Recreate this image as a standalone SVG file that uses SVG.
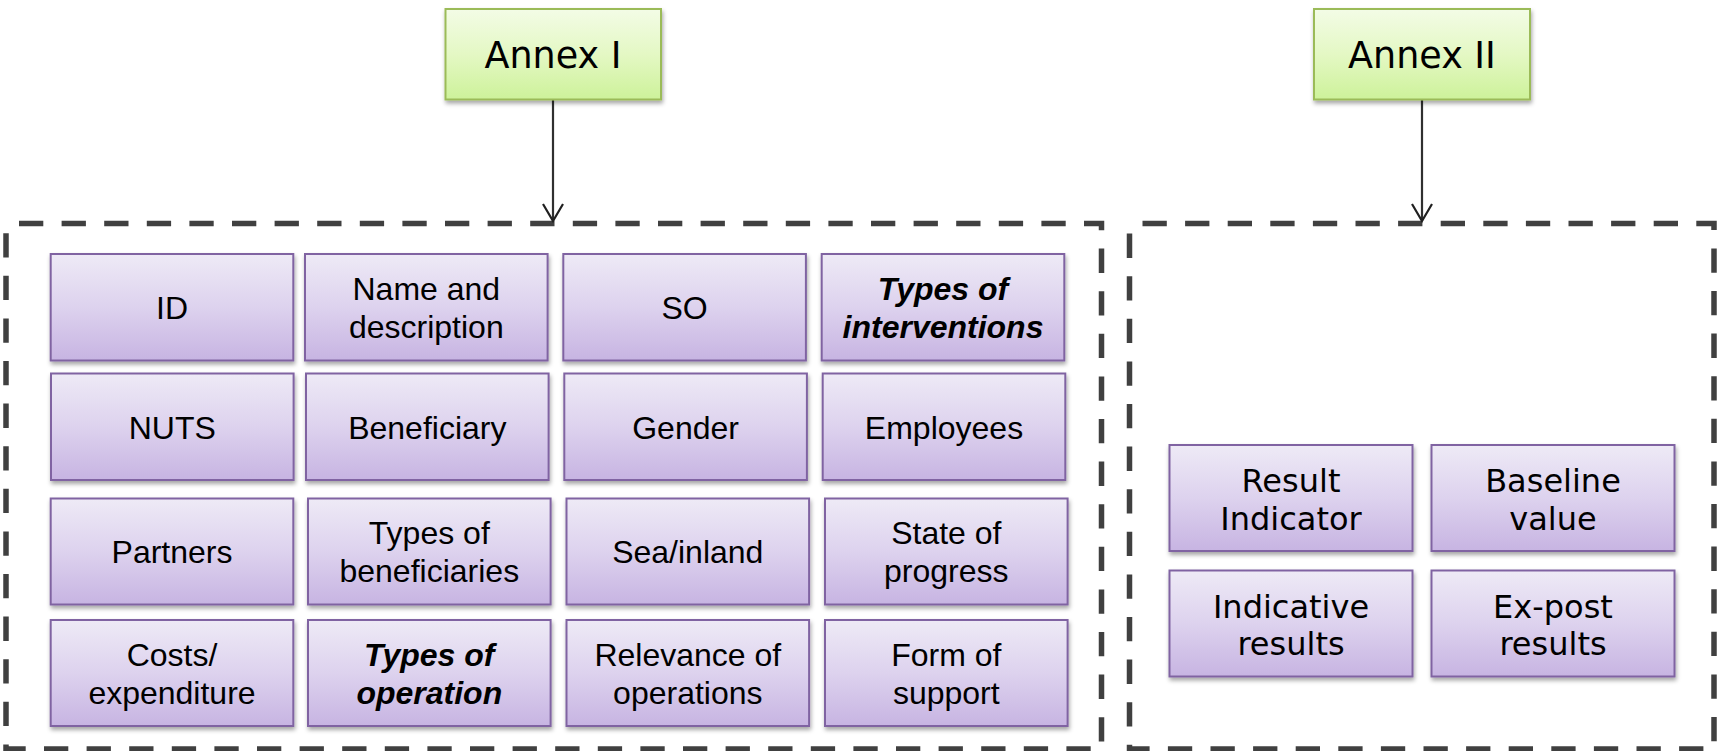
<svg xmlns="http://www.w3.org/2000/svg" width="1717" height="751" viewBox="0 0 1717 751">
<defs>
<linearGradient id="gP" x1="0" y1="0" x2="0" y2="1">
<stop offset="0" stop-color="#EEEAF6"/>
<stop offset="0.5" stop-color="#DDD2EE"/>
<stop offset="1" stop-color="#C7B4E2"/>
</linearGradient>
<linearGradient id="gG" x1="0" y1="0" x2="0" y2="1">
<stop offset="0" stop-color="#F3FCE6"/>
<stop offset="0.5" stop-color="#E4F8C4"/>
<stop offset="1" stop-color="#CDF29A"/>
</linearGradient>
<filter id="sh" x="-10%" y="-10%" width="120%" height="130%">
<feDropShadow dx="1" dy="3" stdDeviation="2.2" flood-color="#000" flood-opacity="0.35"/>
</filter>
<marker id="arr" markerWidth="24" markerHeight="20" refX="11" refY="18" orient="0" markerUnits="userSpaceOnUse">
<path d="M1,1 L11,18 L21,1" fill="none" stroke="#202020" stroke-width="2.2"/>
</marker>
</defs>
<style>
.p{fill:url(#gP);stroke:#8064A2;stroke-width:2;filter:url(#sh)}
.g{fill:url(#gG);stroke:#9BBB59;stroke-width:2;filter:url(#sh)}
.t{font-family:"Liberation Sans",Arial,sans-serif;font-size:32px;fill:#000;text-anchor:middle}
.bi{font-weight:bold;font-style:italic}
.v{font-family:"DejaVu Sans",Verdana,sans-serif;font-size:32px;fill:#000;text-anchor:middle}
.va{font-family:"DejaVu Sans",Verdana,sans-serif;font-size:36.5px;fill:#000;text-anchor:middle}
.d{fill:none;stroke:#404040;stroke-width:5.5;stroke-dasharray:24.3 18.3;stroke-dashoffset:-13}
.c{stroke:#303030;stroke-width:2.2;fill:none}
</style>
<g id="containers">
<path class="d" d="M6,223.5 H1101.5 V749 H6 Z"/>
<path class="d" d="M1129.5,223.5 H1714 V749 H1129.5 Z"/>
</g>
<g id="connectors">
<path class="c" d="M553,100 V221" marker-end="url(#arr)"/>
<path class="c" d="M1422,100 V221" marker-end="url(#arr)"/>
</g>
<g id="annex1"><rect class="g" x="445.5" y="9" width="215.5" height="90.5"/><text class="va" x="553" y="67.5">Annex I</text></g>
<g id="annex2"><rect class="g" x="1314" y="9" width="216" height="90.5"/><text class="va" x="1422" y="67.5">Annex II</text></g>

<g id="n-id"><rect class="p" x="50.7" y="254" width="242.6" height="106.5"/><text class="t" x="172" y="319">ID</text></g>
<g id="n-name"><rect class="p" x="305" y="254" width="242.6" height="106.5"/><text class="t" x="426.3" y="300">Name and</text><text class="t" x="426.3" y="338.3">description</text></g>
<g id="n-so"><rect class="p" x="563.3" y="254" width="242.6" height="106.5"/><text class="t" x="684.6" y="319">SO</text></g>
<g id="n-toi"><rect class="p" x="821.7" y="254" width="242.6" height="106.5"/><text class="t bi" x="943" y="300">Types of</text><text class="t bi" x="943" y="338.3">interventions</text></g>

<g id="n-nuts"><rect class="p" x="51" y="373.5" width="242.6" height="106.5"/><text class="t" x="172.3" y="438.5">NUTS</text></g>
<g id="n-ben"><rect class="p" x="306" y="373.5" width="242.6" height="106.5"/><text class="t" x="427.3" y="438.5">Beneficiary</text></g>
<g id="n-gender"><rect class="p" x="564.3" y="373.5" width="242.6" height="106.5"/><text class="t" x="685.6" y="438.5">Gender</text></g>
<g id="n-emp"><rect class="p" x="822.7" y="373.5" width="242.6" height="106.5"/><text class="t" x="944" y="438.5">Employees</text></g>

<g id="n-partners"><rect class="p" x="50.7" y="498.5" width="242.6" height="106"/><text class="t" x="172" y="563">Partners</text></g>
<g id="n-tob"><rect class="p" x="308" y="498.5" width="242.6" height="106"/><text class="t" x="429.3" y="544">Types of</text><text class="t" x="429.3" y="582.3">beneficiaries</text></g>
<g id="n-sea"><rect class="p" x="566.5" y="498.5" width="242.6" height="106"/><text class="t" x="687.8" y="563">Sea/inland</text></g>
<g id="n-state"><rect class="p" x="825" y="498.5" width="242.6" height="106"/><text class="t" x="946.3" y="544">State of</text><text class="t" x="946.3" y="582.3">progress</text></g>

<g id="n-costs"><rect class="p" x="50.7" y="620" width="242.6" height="106"/><text class="t" x="172" y="665.5">Costs/</text><text class="t" x="172" y="703.8">expenditure</text></g>
<g id="n-too"><rect class="p" x="308" y="620" width="242.6" height="106"/><text class="t bi" x="429.3" y="665.5">Types of</text><text class="t bi" x="429.3" y="703.8">operation</text></g>
<g id="n-rel"><rect class="p" x="566.5" y="620" width="242.6" height="106"/><text class="t" x="687.8" y="665.5">Relevance of</text><text class="t" x="687.8" y="703.8">operations</text></g>
<g id="n-form"><rect class="p" x="825" y="620" width="242.6" height="106"/><text class="t" x="946.3" y="665.5">Form of</text><text class="t" x="946.3" y="703.8">support</text></g>

<g id="n-ri"><rect class="p" x="1169.5" y="445" width="243" height="106"/><text class="v" x="1291" y="492">Result</text><text class="v" x="1291" y="529.5">Indicator</text></g>
<g id="n-bv"><rect class="p" x="1431.5" y="445" width="243" height="106"/><text class="v" x="1553" y="492">Baseline</text><text class="v" x="1553" y="529.5">value</text></g>
<g id="n-ir"><rect class="p" x="1169.5" y="570.5" width="243" height="106"/><text class="v" x="1291" y="617.5">Indicative</text><text class="v" x="1291" y="655">results</text></g>
<g id="n-er"><rect class="p" x="1431.5" y="570.5" width="243" height="106"/><text class="v" x="1553" y="617.5">Ex-post</text><text class="v" x="1553" y="655">results</text></g>
</svg>
